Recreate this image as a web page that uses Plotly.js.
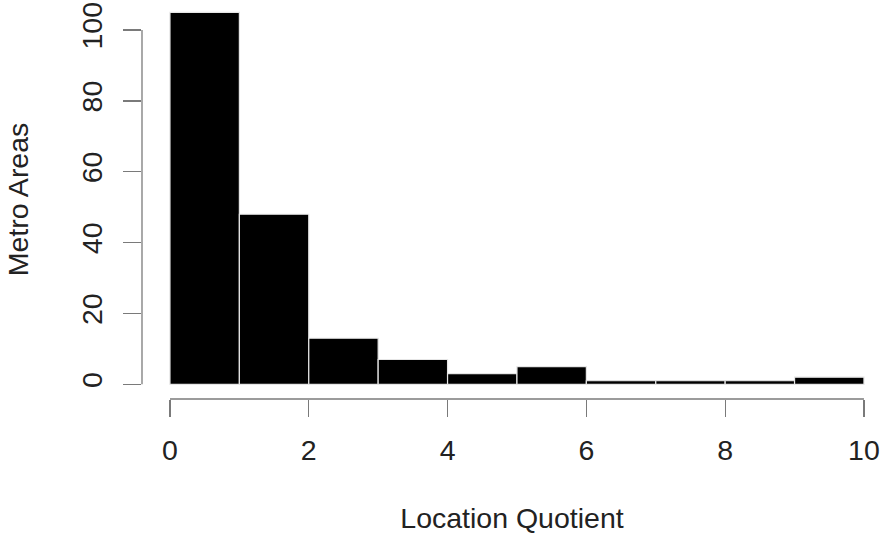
<!DOCTYPE html>
<html>
<head>
<meta charset="utf-8">
<script src="https://cdn.plot.ly/plotly-3.0.1.min.js"></script>
<style>html,body{margin:0;padding:0;background:#fff;}#chart{width:882px;height:534px;}</style>
</head>
<body>
<div id="chart"></div>
<script>
// Histogram bins of Location Quotient (left edges, width 1) and counts of metro areas
var binStarts = [0, 1, 2, 3, 4, 5, 6, 7, 8, 9];
var binWidth = 1;
var counts = [105, 48, 13, 7, 3, 5, 1, 1, 1, 2];
var xTicks = [0, 2, 4, 6, 8, 10];
var yTicks = [0, 20, 40, 60, 80, 100];
var xTitle = "Location Quotient";
var yTitle = "Metro Areas";

var centers = binStarts.map(function (s) { return s + binWidth / 2; });
var fontFam = "Liberation Sans, Arial, Helvetica, sans-serif";
var axisColor = "#7a7a7a";
var fs = 28.5;

var trace = {
  type: "bar",
  x: centers,
  y: counts,
  width: binStarts.map(function () { return binWidth; }),
  marker: { color: "#000000", line: { color: "#e6e6e6", width: 1.2 } },
  hoverinfo: "x+y"
};

var layout = {
  width: 882,
  height: 534,
  margin: { l: 142, r: 0, t: 0, b: 135 },
  paper_bgcolor: "#ffffff",
  plot_bgcolor: "#ffffff",
  showlegend: false,
  bargap: 0,
  font: { family: fontFam, size: fs, color: "#222222" },
  xaxis: {
    range: [-0.403, 10.26],
    tickmode: "array",
    tickvals: xTicks,
    ticktext: xTicks.map(String),
    ticks: "outside",
    ticklen: 17,
    tickwidth: 1.3,
    tickcolor: axisColor,
    showline: false,
    showgrid: false,
    zeroline: false,
    ticklabelstandoff: 9,
    tickfont: { family: fontFam, size: fs, color: "#222222" },
    title: { text: xTitle, font: { family: fontFam, size: fs, color: "#222222" }, standoff: 44 }
  },
  yaxis: {
    range: [-4.15, 108.47],
    tickmode: "array",
    tickvals: yTicks,
    ticktext: yTicks.map(String),
    ticks: "outside",
    ticklen: 18,
    tickwidth: 1.3,
    tickcolor: axisColor,
    tickangle: -90,
    showline: false,
    showgrid: false,
    zeroline: false,
    ticklabelstandoff: 10,
    tickfont: { family: fontFam, size: fs, color: "#222222" },
    title: { text: yTitle, font: { family: fontFam, size: fs, color: "#222222" }, standoff: 38 }
  },
  shapes: [
    { type: "line", xref: "x", yref: "paper", x0: xTicks[0], x1: xTicks[xTicks.length - 1], y0: 0, y1: 0,
      line: { color: axisColor, width: 1.3 } },
    { type: "line", xref: "paper", yref: "y", x0: 0, x1: 0, y0: yTicks[0], y1: yTicks[yTicks.length - 1],
      line: { color: axisColor, width: 1.3 } }
  ]
};

Plotly.newPlot("chart", [trace], layout, { displayModeBar: false, staticPlot: true });
</script>
</body>
</html>
